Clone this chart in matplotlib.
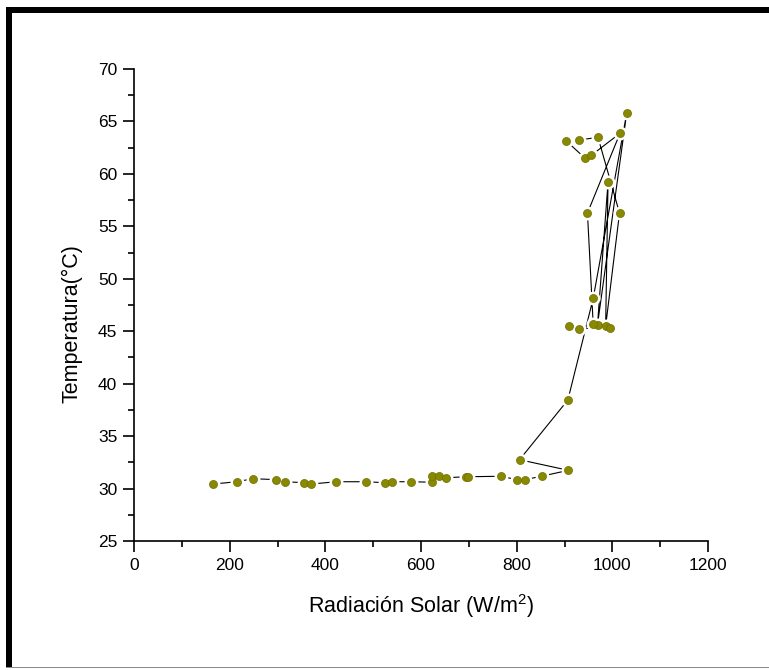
import matplotlib
matplotlib.use("Agg")
import matplotlib.pyplot as plt
from matplotlib.patches import Rectangle
from matplotlib.ticker import MultipleLocator

plt.rcParams['font.family'] = ['Liberation Sans', 'DejaVu Sans']
plt.rcParams['mathtext.fontset'] = 'custom'
plt.rcParams['mathtext.rm'] = 'Liberation Sans'
plt.rcParams['mathtext.it'] = 'Liberation Sans:italic'

# Data (in acquisition order)
radiacion = [165, 215, 249, 297, 316, 355, 371, 422, 484, 524, 540, 580, 624, 623,
             637, 653, 695, 699, 768, 800, 817, 852, 908,
             806, 907, 960, 1030, 969, 991, 986, 1015, 970, 931, 903, 942, 956,
             1016, 948, 960, 995, 931, 909]
temperatura = [30.43, 30.65, 30.94, 30.85, 30.65, 30.56, 30.43, 30.65, 30.65, 30.56,
               30.65, 30.65, 30.60, 31.20, 31.20, 31.03, 31.13, 31.13, 31.17, 30.85,
               30.85, 31.17, 31.74,
               32.75, 38.44, 48.14, 65.78, 45.62, 59.20, 45.47, 56.27, 63.49, 63.23,
               63.17, 61.54, 61.77, 63.87, 56.27, 45.66, 45.34, 45.24, 45.53]

xticks = [0, 200, 400, 600, 800, 1000, 1200]
yticks = [25, 30, 35, 40, 45, 50, 55, 60, 65, 70]

W, H = 769, 670
fig = plt.figure(figsize=(W / 100, H / 100), dpi=100)
fig.patch.set_facecolor('white')
ax = fig.add_axes([134 / W, (H - 541) / H, 574 / W, 472 / H])

ax.plot(radiacion, temperatura, color='black', lw=0.8, zorder=2)
ax.plot(radiacion, temperatura, ls='none', marker='o', ms=10.0,
        mfc='white', mec='white', mew=0, zorder=3)
ax.plot(radiacion, temperatura, ls='none', marker='o', ms=5.8,
        mfc='#898900', mec='#6e6e00', mew=0.5, zorder=4)

ax.set_xlim(0, 1200)
ax.set_ylim(25, 70)
ax.set_xticks(xticks)
ax.set_yticks(yticks)
ax.xaxis.set_minor_locator(MultipleLocator(100))
ax.yaxis.set_minor_locator(MultipleLocator(2.5))
for s in ['top', 'right']:
    ax.spines[s].set_visible(False)
for s in ['left', 'bottom']:
    ax.spines[s].set_linewidth(1.2)
ax.tick_params(which='major', direction='out', length=8, width=1.2, labelsize=12.5, pad=4)
ax.tick_params(which='minor', direction='out', length=4, width=1.2)

ax.set_xlabel(r'Radiación Solar (W/m$^{2}$)', fontsize=15.5, labelpad=14)
ax.set_ylabel('Temperatura(°C)', fontsize=15.5)
ax.yaxis.set_label_coords(-0.09, 0.46)

# figure frame remnants
fig.add_artist(Rectangle((6 / W, (H - 13) / H), 1 - 6 / W, 6 / H,
                         transform=fig.transFigure, color='black', lw=0))
fig.add_artist(Rectangle((6 / W, 3 / H), 6 / W, (H - 10) / H,
                         transform=fig.transFigure, color='black', lw=0))
fig.add_artist(Rectangle((6 / W, 2 / H), 1 - 6 / W, 1.5 / H,
                         transform=fig.transFigure, color='#8a8a8a', lw=0))

fig.savefig('out.png', dpi=100, facecolor='white')
